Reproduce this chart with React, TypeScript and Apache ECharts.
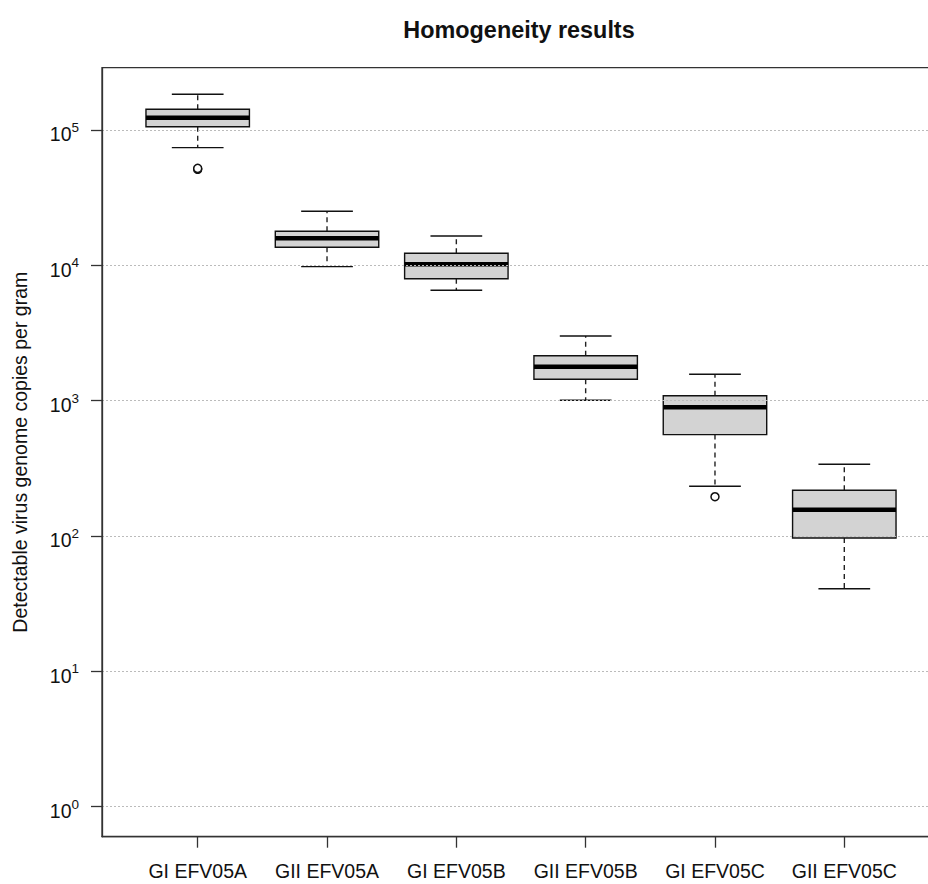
import React, { useEffect, useRef } from 'react';
import * as echarts from 'echarts';

const categories = ['GI EFV05A', 'GII EFV05A', 'GI EFV05B', 'GII EFV05B', 'GI EFV05C', 'GII EFV05C'];
const lowerWhisker = [74000, 9770, 6540, 1006, 233, 40.8];
const lowerQuartile = [105700, 13600, 7960, 1439, 561, 96.7];
const medianValue = [123300, 15850, 10180, 1782, 893, 156];
const upperQuartile = [142300, 17850, 12270, 2149, 1088, 218];
const upperWhisker = [183600, 25060, 16480, 3006, 1567, 339];
const outlierGroup = [1, 1, 5];
const outlierValue = [51200, 52000, 195];
const yTickValues = [1, 10, 100, 1000, 10000, 100000];
const categoryPositions = [1, 2, 3, 4, 5, 6];

const FONT = "'Liberation Sans', Arial, Helvetica, sans-serif";

export default function App() {
  const ref = useRef<HTMLDivElement>(null);

  useEffect(() => {
    document.body.style.margin = '0';
    if (!ref.current) return;
    const chart = echarts.init(ref.current, undefined, { renderer: 'svg' });

    const boxData = categories.map((_, i) => [
      categoryPositions[i],
      lowerWhisker[i],
      lowerQuartile[i],
      medianValue[i],
      upperQuartile[i],
      upperWhisker[i],
    ]);
    const outlierData = outlierGroup.map((g, i) => [g, outlierValue[i]]);

    const option: any = {
      animation: false,
      backgroundColor: '#ffffff',
      title: {
        text: 'Homogeneity results',
        left: 514,
        top: 13,
        textAlign: 'center',
        textStyle: { fontFamily: FONT, fontSize: 23.4, fontWeight: 'bold', color: '#111' },
      },
      grid: {
        left: 102,
        top: 67.7,
        width: 838,
        height: 769,
        show: true,
        borderColor: '#333',
        borderWidth: 1.3,
        backgroundColor: 'transparent',
      },
      xAxis: {
        type: 'value',
        min: 0.26,
        max: 6.74,
        axisLine: { show: true, lineStyle: { color: '#333', width: 1.3 } },
        axisTick: { show: true, length: 11, customValues: categoryPositions, lineStyle: { color: '#333', width: 1.3 } },
        axisLabel: {
          customValues: categoryPositions,
          margin: 24,
          fontFamily: FONT,
          fontSize: 19.5,
          color: '#111',
          formatter: (v: number) => categories[Math.round(v) - 1] ?? '',
        },
        splitLine: { show: false },
      },
      yAxis: {
        type: 'log',
        logBase: 10,
        min: 0.6,
        max: 288400,
        z: 3,
        name: 'Detectable virus genome copies per gram',
        nameLocation: 'middle',
        nameRotate: 90,
        nameGap: 72,
        nameTextStyle: { fontFamily: FONT, fontSize: 19.5, color: '#111' },
        axisLine: { show: true, lineStyle: { color: '#333', width: 1.3 } },
        axisTick: { show: true, length: 11, customValues: yTickValues, lineStyle: { color: '#333', width: 1.3 } },
        axisLabel: {
          customValues: yTickValues,
          margin: 23,
          padding: [9, 0, 0, 0],
          formatter: (v: number) => `{base|10}{sup|${Math.round(Math.log10(v))}}`,
          rich: {
            base: { fontFamily: FONT, fontSize: 19.5, color: '#111', lineHeight: 28 },
            sup: { fontFamily: FONT, fontSize: 13.5, color: '#111', lineHeight: 14, verticalAlign: 'top' },
          },
        },
        splitLine: { show: true, lineStyle: { color: '#bbbbbb', width: 1, type: [2, 2] } },
      },
      series: [
        {
          type: 'custom',
          z: 2,
          data: boxData,
          encode: { x: 0, y: [1, 2, 3, 4, 5] },
          renderItem: (params: any, api: any) => {
            const x = api.value(0);
            const lo = api.coord([x, api.value(1)]);
            const b1 = api.coord([x, api.value(2)]);
            const md = api.coord([x, api.value(3)]);
            const b3 = api.coord([x, api.value(4)]);
            const hi = api.coord([x, api.value(5)]);
            const left = api.coord([x - 0.4, api.value(3)])[0];
            const right = api.coord([x + 0.4, api.value(3)])[0];
            const cx = lo[0];
            const w = right - left;
            const capHalf = w / 4;
            const solid = { stroke: '#111', lineWidth: 1.4, fill: null };
            const dashed = { stroke: '#222', lineWidth: 1.4, lineDash: [5, 4], fill: null };
            return {
              type: 'group',
              children: [
                { type: 'line', shape: { x1: cx, y1: b3[1], x2: cx, y2: hi[1] }, style: dashed },
                { type: 'line', shape: { x1: cx, y1: b1[1], x2: cx, y2: lo[1] }, style: dashed },
                { type: 'line', shape: { x1: cx - capHalf, y1: hi[1], x2: cx + capHalf, y2: hi[1] }, style: solid },
                { type: 'line', shape: { x1: cx - capHalf, y1: lo[1], x2: cx + capHalf, y2: lo[1] }, style: solid },
                {
                  type: 'rect',
                  shape: { x: left, y: b3[1], width: w, height: b1[1] - b3[1] },
                  style: { fill: '#d3d3d3', stroke: '#111', lineWidth: 1.4 },
                },
                { type: 'line', shape: { x1: left, y1: md[1], x2: right, y2: md[1] }, style: { stroke: '#000', lineWidth: 4.5 } },
              ],
            };
          },
        },
        {
          type: 'scatter',
          z: 4,
          data: outlierData,
          symbol: 'circle',
          symbolSize: 8,
          itemStyle: { color: '#ffffff', borderColor: '#111', borderWidth: 1.5, opacity: 1 },
        },
      ],
    };

    chart.setOption(option);
    return () => chart.dispose();
  }, []);

  return (
    <div style={{ width: 928, height: 884, position: 'absolute', left: 0, top: 0, overflow: 'hidden' }}>
      <div ref={ref} style={{ width: 960, height: 884 }} />
    </div>
  );
}
